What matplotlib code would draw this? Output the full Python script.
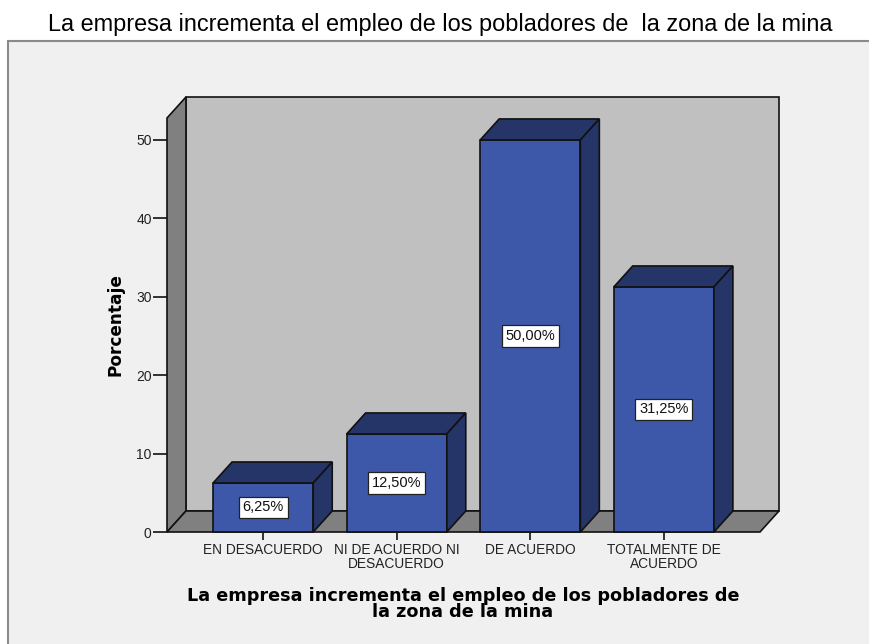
import matplotlib
matplotlib.use("Agg")
import matplotlib.pyplot as plt
from matplotlib.patches import Rectangle, Polygon

# data
categorias = ["EN DESACUERDO", "NI DE ACUERDO NI\nDESACUERDO", "DE ACUERDO", "TOTALMENTE DE\nACUERDO"]
porcentajes = [6.25, 12.50, 50.00, 31.25]
etiquetas = ["6,25%", "12,50%", "50,00%", "31,25%"]
y_ticks = [0, 10, 20, 30, 40, 50]

titulo = "La empresa incrementa el empleo de los pobladores de  la zona de la mina"
x_label = "La empresa incrementa el empleo de los pobladores de\nla zona de la mina"

# colores
c_front = "#3d58a9"
c_dark = "#263568"
c_back = "#c0c0c0"
c_wall = "#808080"
c_panel = "#f0f0f0"
c_edge = "#111111"

W, H = 869, 644
fig = plt.figure(figsize=(W / 100, H / 100), dpi=100)
fig.patch.set_facecolor("white")

# marco gris claro
fig.patches.append(Rectangle((8 / W, -0.01), 1.0, (H - 41) / H + 0.01,
                             transform=fig.transFigure, facecolor=c_panel,
                             edgecolor="#8a8a8a", lw=1.5, zorder=-5))

fig.text(440 / W, 1 - 31 / H, titulo, ha="center", va="baseline",
         fontsize=16.9, family="Liberation Sans", color="black")

ax = fig.add_axes([167 / W, 1 - 532 / H, 593 / W, 414 / H])
ax.set_zorder(2)
ax.set_facecolor("none")
x0, x1 = -0.72, 3.72
ytop = 52.8
ax.set_xlim(x0, x1)
ax.set_ylim(0, ytop)
for s in ax.spines.values():
    s.set_visible(False)

dx, dy = 0.142, 2.68   # profundidad 3D
bw = 0.75

# pared del fondo, pared izquierda, piso
ax.add_patch(Rectangle((x0 + dx, dy), x1 - x0, ytop, facecolor=c_back,
                       edgecolor=c_edge, lw=1.2, clip_on=False, zorder=1))
ax.add_patch(Polygon([(x0, 0), (x0, ytop), (x0 + dx, ytop + dy), (x0 + dx, dy)],
                     facecolor=c_wall, edgecolor=c_edge, lw=1.2, clip_on=False, zorder=2))
ax.add_patch(Polygon([(x0, 0), (x1, 0), (x1 + dx, dy), (x0 + dx, dy)],
                     facecolor=c_wall, edgecolor=c_edge, lw=1.2, clip_on=False, zorder=2))

for i, v in enumerate(porcentajes):
    a, b = i - bw / 2, i + bw / 2
    ax.add_patch(Rectangle((a, 0), bw, v, facecolor=c_front, edgecolor=c_edge,
                           lw=1.2, clip_on=False, zorder=3))
    ax.add_patch(Polygon([(a, v), (b, v), (b + dx, v + dy), (a + dx, v + dy)],
                         facecolor=c_dark, edgecolor=c_edge, lw=1.2, clip_on=False, zorder=3))
    ax.add_patch(Polygon([(b, 0), (b, v), (b + dx, v + dy), (b + dx, dy)],
                         facecolor=c_dark, edgecolor=c_edge, lw=1.2, clip_on=False, zorder=3))
    ax.text(i, v / 2, etiquetas[i], ha="center", va="center", fontsize=10.5,
            family="Liberation Sans", color="#111111", zorder=5,
            bbox=dict(boxstyle="square,pad=0.26", facecolor="white",
                      edgecolor="#222222", lw=0.9))

ax.set_yticks(y_ticks)
ax.set_yticklabels([str(t) for t in y_ticks])
ax.set_xticks(range(len(categorias)))
ax.set_xticklabels(categorias, linespacing=0.95)
ax.tick_params(axis="y", length=10, width=1.2, color=c_edge, pad=1,
               labelsize=10, labelcolor="#222222")
ax.tick_params(axis="x", length=6, width=1.2, color=c_edge, pad=2,
               labelsize=9.9, labelcolor="#222222")
for lab in ax.get_xticklabels() + ax.get_yticklabels():
    lab.set_family("Liberation Sans")

ax.set_ylabel("Porcentaje", fontsize=12.2, fontweight="bold", family="DejaVu Sans")
ax.yaxis.set_label_coords(-42 / 593, 0.5)
fig.text(463 / W, 1 - 604 / H, x_label, ha="center", va="center", fontsize=12.7,
         fontweight="bold", family="DejaVu Sans", linespacing=0.9)

fig.savefig("out.png", dpi=100, facecolor=fig.get_facecolor())
